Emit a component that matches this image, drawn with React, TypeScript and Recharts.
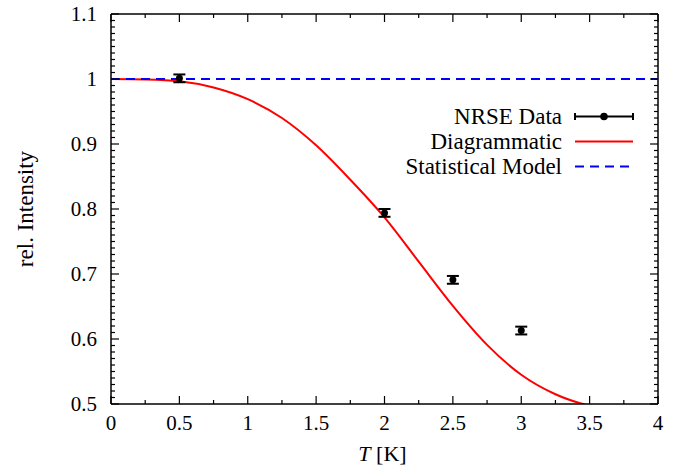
import React from 'react'
import {
  ComposedChart,
  Line,
  Scatter,
  ErrorBar,
  XAxis,
  YAxis,
  Label,
  ReferenceLine,
} from 'recharts'

// NRSE measurement points
const nrseT = [0.5, 2.0, 2.5, 3.0]
const nrseI = [1.001, 0.794, 0.691, 0.613]
const nrseErr = [0.006, 0.006, 0.006, 0.006]

// diagrammatic calculation (red curve)
const diagT = [0, 0.25, 0.5, 0.75, 1.0, 1.25, 1.5, 1.75, 2.0, 2.25, 2.5, 2.75, 3.0, 3.25, 3.5, 3.75]
const diagI = [1.0, 0.9993, 0.9965, 0.987, 0.969, 0.94, 0.898, 0.845, 0.787, 0.719, 0.651, 0.591, 0.545, 0.515, 0.497, 0.487]

// statistical model (flat at 1)
const statT = [0, 4]
const statI = [1, 1]

const xMajor = [0, 0.5, 1, 1.5, 2, 2.5, 3, 3.5, 4]
const yMajor = [0.5, 0.6, 0.7, 0.8, 0.9, 1, 1.1]

const xTicks = Array.from({ length: 17 }, (_, i) => i * 0.25)
const yTicks = Array.from({ length: 61 }, (_, i) => Math.round((0.5 + i * 0.01) * 100) / 100)

const nrseData = nrseT.map((t, i) => ({ t, v: nrseI[i], err: nrseErr[i] }))
const diagData = diagT.map((t, i) => ({ t, v: diagI[i] }))
const statData = statT.map((t, i) => ({ t, v: statI[i] }))

const font = '"Liberation Serif", "DejaVu Serif", serif'
const PLOT_W = 547
const PLOT_H = 390

const XTick = (props: any) => {
  const { x, y, payload } = props
  const major = xMajor.some((m) => Math.abs(m - payload.value) < 1e-6)
  const len = major ? 8 : 4
  return (
    <g>
      <line x1={x} y1={y} x2={x} y2={y - len} stroke="#000" strokeWidth={1.2} />
      <line x1={x} y1={y - PLOT_H} x2={x} y2={y - PLOT_H + len} stroke="#000" strokeWidth={1.2} />
      {major && (
        <text x={x} y={y + 26} textAnchor="middle" fontFamily={font} fontSize={21} fill="#000">
          {payload.value}
        </text>
      )}
    </g>
  )
}

const YTick = (props: any) => {
  const { x, y, payload } = props
  const major = yMajor.some((m) => Math.abs(m - payload.value) < 1e-6)
  const len = major ? 8 : 4
  return (
    <g>
      <line x1={x} y1={y} x2={x + len} y2={y} stroke="#000" strokeWidth={1.2} />
      <line x1={x + PLOT_W} y1={y} x2={x + PLOT_W - len} y2={y} stroke="#000" strokeWidth={1.2} />
      {major && (
        <text x={x - 14} y={y + 7} textAnchor="end" fontFamily={font} fontSize={21} fill="#000">
          {payload.value}
        </text>
      )}
    </g>
  )
}

const legendRows = [
  { name: 'NRSE Data', kind: 'err' },
  { name: 'Diagrammatic', kind: 'red' },
  { name: 'Statistical Model', kind: 'blue' },
]

const LegendBox = () => (
  <div
    style={{
      position: 'absolute',
      top: 104,
      left: 262,
      width: 378,
      fontFamily: font,
      fontSize: 23,
      lineHeight: '25px',
      color: '#000',
    }}
  >
    {legendRows.map((r) => (
      <div key={r.name} style={{ display: 'flex', alignItems: 'center', justifyContent: 'flex-end', height: 25 }}>
        <span>{r.name}</span>
        <svg width={78} height={25} style={{ display: 'block' }}>
          {r.kind === 'err' && (
            <g stroke="#000" strokeWidth={2}>
              <line x1={13} y1={12.5} x2={71} y2={12.5} />
              <line x1={13} y1={9} x2={13} y2={16} />
              <line x1={71} y1={9} x2={71} y2={16} />
              <circle cx={42} cy={12.5} r={2.8} fill="#000" />
            </g>
          )}
          {r.kind === 'red' && <line x1={13} y1={12.5} x2={71} y2={12.5} stroke="#ff0000" strokeWidth={2} />}
          {r.kind === 'blue' && (
            <line x1={13} y1={12.5} x2={71} y2={12.5} stroke="#0000ff" strokeWidth={2} strokeDasharray="9 6" />
          )}
        </svg>
      </div>
    ))}
  </div>
)

export default function App() {
  return (
    <div style={{ position: 'absolute', left: 0, top: 0, width: 690, height: 472, background: '#fff' }}>
      <ComposedChart width={690} height={472} margin={{ top: 14, right: 32, bottom: 0, left: 0 }}>
        <XAxis
          dataKey="t"
          type="number"
          domain={[0, 4]}
          ticks={xTicks}
          interval={0}
          allowDataOverflow
          height={68}
          tickSize={0}
          tickMargin={0}
          tickLine={false}
          axisLine={{ stroke: '#000', strokeWidth: 1.5 }}
          tick={<XTick />}
        >
          <Label
            content={({ viewBox }: any) => (
              <text
                x={viewBox.x + viewBox.width / 2 - 2}
                y={viewBox.y + 57}
                textAnchor="middle"
                fontFamily={font}
                fontSize={22}
                fill="#000"
              >
                <tspan fontStyle="italic">T</tspan> [K]
              </text>
            )}
          />
        </XAxis>
        <YAxis
          type="number"
          domain={[0.5, 1.1]}
          ticks={yTicks}
          interval={0}
          allowDataOverflow
          width={111}
          tickSize={0}
          tickMargin={0}
          tickLine={false}
          axisLine={{ stroke: '#000', strokeWidth: 1.5 }}
          tick={<YTick />}
        >
          <Label
            content={({ viewBox }: any) => (
              <text
                x={33}
                y={viewBox.y + viewBox.height / 2}
                textAnchor="middle"
                fontFamily={font}
                fontSize={23}
                fill="#000"
                transform={`rotate(-90 33 ${viewBox.y + viewBox.height / 2})`}
              >
                rel. Intensity
              </text>
            )}
          />
        </YAxis>
        <ReferenceLine y={1.1} stroke="#000" strokeWidth={1.5} />
        <ReferenceLine x={4} stroke="#000" strokeWidth={1.5} />
        <Line
          data={diagData}
          dataKey="v"
          type="monotone"
          stroke="#ff0000"
          strokeWidth={2}
          dot={false}
          isAnimationActive={false}
        />
        <Line
          data={statData}
          dataKey="v"
          type="linear"
          stroke="#0000ff"
          strokeWidth={2}
          strokeDasharray="9 6"
          dot={false}
          isAnimationActive={false}
        />
        <Scatter
          data={nrseData}
          dataKey="v"
          fill="#000"
          shape={(p: any) => <circle cx={p.cx} cy={p.cy} r={3.5} fill="#000" />}
          isAnimationActive={false}
        >
          <ErrorBar dataKey="err" direction="y" width={6} stroke="#000" strokeWidth={2} />
        </Scatter>
      </ComposedChart>
      <LegendBox />
    </div>
  )
}
